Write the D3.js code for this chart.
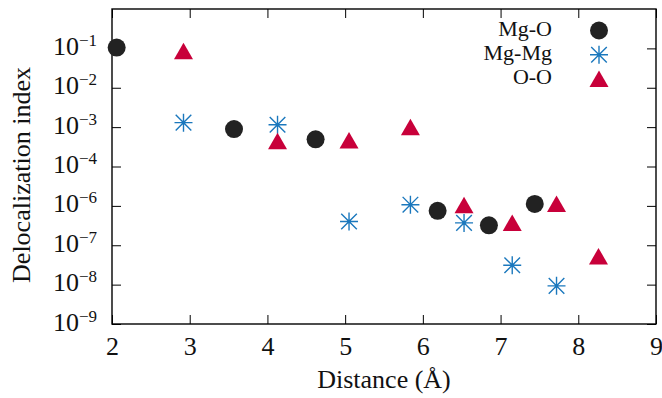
<!DOCTYPE html>
<html>
<head>
<meta charset="utf-8">
<script src="https://cdn.jsdelivr.net/npm/d3@7"></script>
<style>
  html, body { margin: 0; padding: 0; background: #fff; }
  svg { display: block; font-family: "Liberation Serif", "DejaVu Serif", serif; }
</style>
</head>
<body>
<div id="chart"></div>
<script>
// data (distance in Å, delocalization index)
const mgoDist = [2.06, 3.57, 4.62, 6.19, 6.85, 7.44]
const mgoVal = [0.105, 8.9e-4, 4.9e-4, 7.5e-7, 3.2e-7, 1.25e-6]

const mgmgDist = [2.92, 4.13, 5.05, 5.84, 6.53, 7.15, 7.72]
const mgmgVal = [1.3e-3, 1.15e-3, 4.0e-7, 1.15e-6, 3.7e-7, 3.1e-8, 9.3e-9]

const ooDist = [2.92, 4.13, 5.05, 5.84, 6.53, 7.15, 7.72, 8.26]
const ooVal = [0.084, 4.4e-4, 4.6e-4, 1.0e-3, 1.08e-6, 3.7e-7, 1.25e-6, 5.2e-8]

const xTicks = [2, 3, 4, 5, 6, 7, 8, 9]
// the original axis skips 10^-5: its labels run -1..-4 then -6..-9
const yTickExp = [-1, -2, -3, -4, -6, -7, -8, -9]

const seriesNames = ["Mg-O", "Mg-Mg", "O-O"]

const width = 662
const height = 398
const marginTop = 9
const marginRight = 6
const marginBottom = 74
const marginLeft = 112
const tickLen = 9

const colors = { "Mg-O": "#222222", "Mg-Mg": "#1b78bd", "O-O": "#c8003a" }

const svg = d3.select("#chart").append("svg")
    .attr("width", width)
    .attr("height", height)

const x = d3.scaleLinear([2, 9], [marginLeft, width - marginRight])
// piecewise scale on log10(value), keeps the break between 10^-4 and 10^-6
const step = (height - marginBottom - marginTop) / 8
const yLog = d3.scaleLinear()
    .domain([0, -4, -6, -9])
    .range([marginTop, marginTop + 4 * step, marginTop + 5 * step, height - marginBottom])
const y = v => yLog(Math.log10(v))

const x0 = marginLeft, x1 = width - marginRight
const y0 = marginTop, y1 = height - marginBottom

// bottom axis
svg.append("g")
    .attr("transform", `translate(0,${y1})`)
    .call(d3.axisBottom(x).tickValues(xTicks).tickSize(-tickLen).tickSizeOuter(0).tickFormat(d3.format("d")))
    .call(g => g.select(".domain").remove())
    .call(g => g.selectAll(".tick line").attr("stroke", "#000").attr("stroke-width", 1))
    .call(g => g.selectAll(".tick text")
        .attr("y", 31).attr("dy", null)
        .attr("font-size", 26).attr("fill", "#111")
        .attr("font-family", "Liberation Serif"))

// top mirror ticks
svg.append("g")
    .attr("transform", `translate(0,${y0})`)
    .call(d3.axisTop(x).tickValues(xTicks).tickSize(-tickLen).tickSizeOuter(0).tickFormat(""))
    .call(g => g.select(".domain").remove())
    .call(g => g.selectAll(".tick line").attr("stroke", "#000"))

// left axis
svg.append("g")
    .attr("transform", `translate(${x0},0)`)
    .call(d3.axisLeft(yLog).tickValues(yTickExp).tickSize(-tickLen).tickSizeOuter(0).tickFormat(""))
    .call(g => g.select(".domain").remove())
    .call(g => g.selectAll(".tick line").attr("stroke", "#000"))
    .call(g => g.selectAll(".tick text")
        .attr("x", -15).attr("dy", 6)
        .attr("font-size", 26).attr("fill", "#111")
        .attr("font-family", "Liberation Serif")
        .each(function(d) {
            const t = d3.select(this)
            t.append("tspan").text("10")
            t.append("tspan").attr("dy", -9).attr("font-size", 17).text("\u2212" + Math.abs(d))
        }))

// right mirror ticks
svg.append("g")
    .attr("transform", `translate(${x1},0)`)
    .call(d3.axisRight(yLog).tickValues(yTickExp).tickSize(-tickLen).tickSizeOuter(0).tickFormat(""))
    .call(g => g.select(".domain").remove())
    .call(g => g.selectAll(".tick line").attr("stroke", "#000"))

// frame
svg.append("rect")
    .attr("x", x0).attr("y", y0)
    .attr("width", x1 - x0).attr("height", y1 - y0)
    .attr("fill", "none").attr("stroke", "#000").attr("stroke-width", 1.4)

// axis titles
svg.append("text")
    .attr("x", (x0 + x1) / 2).attr("y", 388)
    .attr("text-anchor", "middle")
    .attr("font-size", 26).attr("fill", "#111")
    .text("Distance (Å)")

svg.append("text")
    .attr("transform", `translate(30,175) rotate(-90)`)
    .attr("text-anchor", "middle")
    .attr("font-size", 26).attr("fill", "#111")
    .text("Delocalization index")

// markers
const circle = (g, cx, cy, c) => g.append("circle").attr("cx", cx).attr("cy", cy).attr("r", 9).attr("fill", c)
const star = (g, cx, cy, c) => {
    const s = 9, d = 7.8
    g.append("path")
        .attr("d", `M${cx - s},${cy}H${cx + s}M${cx},${cy - s}V${cy + s}` +
            `M${cx - d},${cy - d}L${cx + d},${cy + d}M${cx - d},${cy + d}L${cx + d},${cy - d}`)
        .attr("stroke", c).attr("stroke-width", 1.4).attr("fill", "none")
    g.append("circle").attr("cx", cx).attr("cy", cy).attr("r", 1.6).attr("fill", c)
}
const tri = (g, cx, cy, c) => g.append("path")
    .attr("d", `M${cx},${cy - 8.5}L${cx + 9.5},${cy + 8}L${cx - 9.5},${cy + 8}Z`)
    .attr("fill", c)

const marks = svg.append("g")
mgoDist.forEach((d, i) => circle(marks, x(d), y(mgoVal[i]), colors["Mg-O"]))
mgmgDist.forEach((d, i) => star(marks, x(d), y(mgmgVal[i]), colors["Mg-Mg"]))
ooDist.forEach((d, i) => tri(marks, x(d), y(ooVal[i]), colors["O-O"]))

// legend (slightly smaller type so the rows don't collide)
const legend = svg.append("g")
const drawers = [circle, star, tri]
seriesNames.forEach((name, i) => {
    const by = 35.5 + i * 24.3
    legend.append("text")
        .attr("x", 552).attr("y", by)
        .attr("text-anchor", "end")
        .attr("font-size", 22).attr("fill", "#111")
        .text(name)
    drawers[i](legend, 599, by - 5, colors[name])
})
</script>
</body>
</html>
